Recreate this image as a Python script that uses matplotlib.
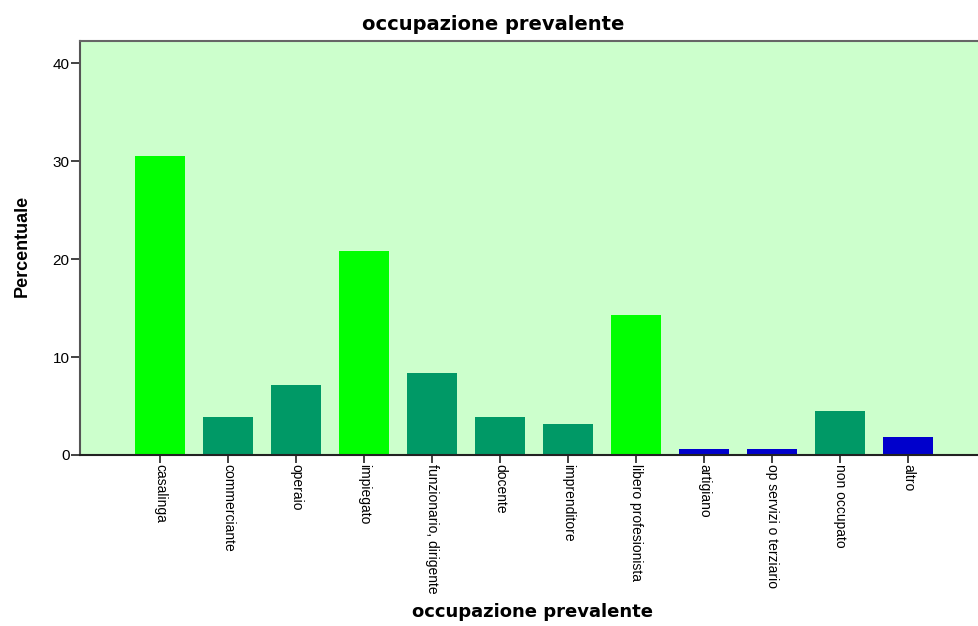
import matplotlib
matplotlib.use("Agg")
import matplotlib.pyplot as plt

categories = ["casalinga", "commerciante", "operaio", "impiegato", "funzionario, dirigente",
              "docente", "imprenditore", "libero profesionista", "artigiano",
              "op servizi o terziario", "non occupato", "altro"]
values = [30.5, 3.9, 7.1, 20.8, 8.4, 3.9, 3.2, 14.3, 0.6, 0.6, 4.5, 1.8]
groups = ["g", "t", "t", "g", "t", "t", "t", "g", "b", "b", "t", "b"]
yticks = [0, 10, 20, 30, 40]

palette = {"g": "#00FF00", "t": "#009966", "b": "#0000CC"}
colors = [palette[g] for g in groups]

fig = plt.figure(figsize=(9.79, 6.26), dpi=100)
ax = fig.add_axes([80/979, 1-455/626, 1-80/979, (455-41)/626])
ax.set_facecolor("#CCFFCC")
x = list(range(len(categories)))
ax.bar(x, values, width=0.735, color=colors, zorder=2)
ax.set_xlim(-1.18, 12.04)
ax.set_ylim(0, 42.25)
ax.set_yticks(yticks)
ax.set_yticklabels([str(v) for v in yticks], fontsize=11, family="Liberation Sans")
ax.set_xticks(x)
ax.set_xticklabels(categories, rotation=270, fontsize=10, family="Liberation Sans",
                   ha="center", va="top", rotation_mode="default")
ax.tick_params(axis="x", direction="out", length=5.5, width=1.2, color="#222222", pad=1)
ax.tick_params(axis="y", direction="out", length=6.5, width=1.2, color="#222222", pad=1)
ax.spines["right"].set_visible(False)
ax.spines["left"].set_color("#555555")
ax.spines["left"].set_linewidth(1.5)
ax.spines["top"].set_color("#666666")
ax.spines["top"].set_linewidth(1.5)
ax.spines["bottom"].set_color("#222222")
ax.spines["bottom"].set_linewidth(1.5)

fig.text(493/979, 1-25/626, "occupazione prevalente", ha="center", va="center",
         fontsize=14, fontweight="bold", family="DejaVu Sans")
fig.text(533/979, 1-612/626, "occupazione prevalente", ha="center", va="center",
         fontsize=13, fontweight="bold", family="DejaVu Sans")
fig.text(22/979, 1-246/626, "Percentuale", ha="center", va="center", rotation=90,
         fontsize=13, fontweight="bold", family="Liberation Sans")

fig.savefig("out.png", dpi=100, facecolor="white")
